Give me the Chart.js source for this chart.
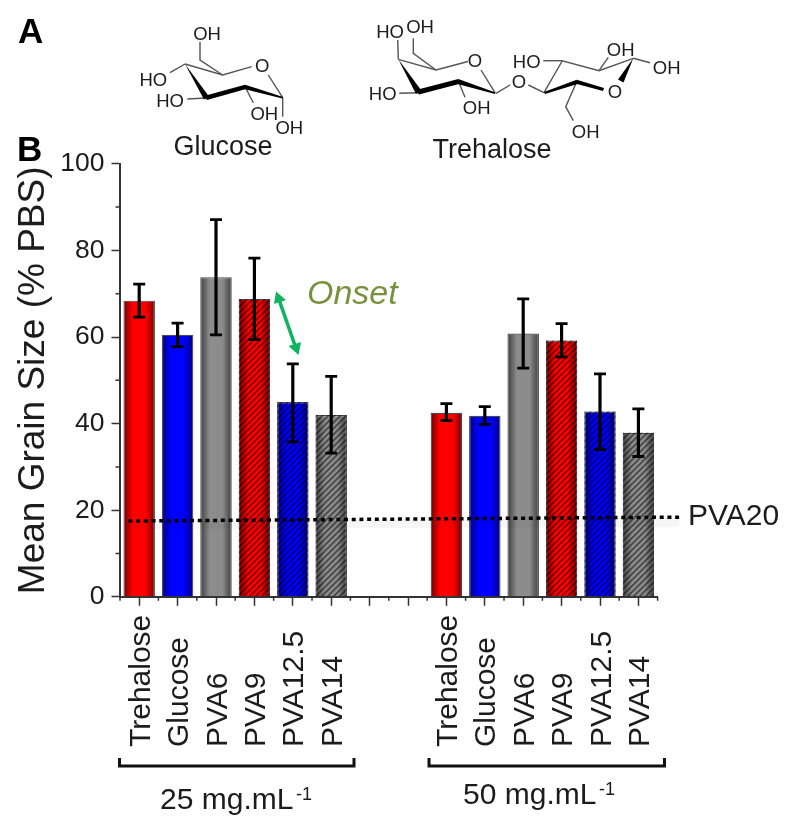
<!DOCTYPE html>
<html>
<head>
<meta charset="utf-8">
<title>Mean Grain Size</title>
<script src="https://cdn.jsdelivr.net/npm/chart.js@4"></script>
<style>
html,body{margin:0;padding:0;background:#fff;}
#wrap{position:relative;width:800px;height:834px;overflow:hidden;}
canvas{position:absolute;left:0;top:0;}
svg{position:absolute;left:0;top:0;}
svg text{font-family:"Liberation Sans",Arial,sans-serif;fill:#1c1c1c;}
.lab{font-size:18.5px;text-anchor:middle;dominant-baseline:central;}
.name{font-size:27px;text-anchor:middle;}
.thin{stroke:#555;stroke-width:1.4;fill:none;}
.bold{fill:#000;stroke:none;}
</style>
</head>
<body>
<div id="wrap">
<canvas id="c" width="800" height="834"></canvas>
<svg width="800" height="834" viewBox="0 0 800 834">
  <text x="18" y="43" style="font-size:35px;font-weight:bold;fill:#000">A</text>
  <text x="17" y="161" style="font-size:35px;font-weight:bold;fill:#000">B</text>

  <!-- Glucose -->
  <polyline class="thin" points="200,41.7 200,60 222.7,75"/>
  <polyline class="thin" points="185,64 222.7,75 251.7,66.7"/>
  <line class="thin" x1="268.3" y1="75" x2="282.7" y2="97.7"/>
  <line class="thin" x1="170" y1="72.7" x2="185" y2="64"/>
  <line class="thin" x1="187.3" y1="99" x2="206" y2="98"/>
  <line class="thin" x1="245" y1="86.7" x2="253.3" y2="102.7"/>
  <line class="thin" x1="282.7" y1="97.7" x2="282.7" y2="116.7"/>
  <polygon class="bold" points="185,64 209,96.5 204,99.5"/>
  <polygon class="bold" points="204,96 245,84.7 246,89 207,100"/>
  <polygon class="bold" points="245,84.7 283,97 282.5,98.5 244,89"/>
  <text class="lab" x="207" y="33">OH</text>
  <text class="lab" x="153.3" y="79.3">HO</text>
  <text class="lab" x="170" y="100">HO</text>
  <text class="lab" x="264.3" y="113">OH</text>
  <text class="lab" x="289.3" y="127.3">OH</text>
  <text class="name" x="223" y="155">Glucose</text>

  <!-- Trehalose -->
  <line class="thin" x1="397.7" y1="40" x2="398.3" y2="59.3"/>
  <polyline class="thin" points="413.3,38.3 413.3,53.3 436,70"/>
  <polyline class="thin" points="398.3,59.3 436,70 468,61.5"/>
  <line class="thin" x1="481" y1="70" x2="495" y2="92.7"/>
  <line class="thin" x1="399.3" y1="93.3" x2="418.3" y2="92.7"/>
  <line class="thin" x1="458.3" y1="81" x2="465" y2="97.3"/>
  <line class="thin" x1="496" y1="93.3" x2="510" y2="85"/>
  <line class="thin" x1="528.3" y1="85" x2="544" y2="92.7"/>
  <polyline class="thin" points="544,92.7 562.3,60.7 599,70.7 633.3,58.3"/>
  <line class="thin" x1="543.3" y1="60.7" x2="562.3" y2="60.7"/>
  <line class="thin" x1="599" y1="70.7" x2="608.3" y2="57.3"/>
  <line class="thin" x1="633.3" y1="58.3" x2="650" y2="62.7"/>
  <polyline class="thin" points="576.7,81.7 565.7,106.7 573.3,120.7"/>
  <polygon class="bold" points="398.3,59.3 421,90 416,94"/>
  <polygon class="bold" points="416,90 458.3,79 459,84 419,94.5"/>
  <polygon class="bold" points="458.3,79 495.5,92.5 495,94 457.5,84"/>
  <polygon class="bold" points="544,92 576.7,79.7 577.5,84 545,94"/>
  <polygon class="bold" points="576.7,79.7 604,88 603,91 577,84"/>
  <polygon class="bold" points="633.3,58.3 623.5,82.5 618,79.5"/>
  <text class="lab" x="390" y="31.7">HO</text>
  <text class="lab" x="420" y="26.7">OH</text>
  <text class="lab" x="382.7" y="93.3">HO</text>
  <text class="lab" x="476.7" y="107.3">OH</text>
  <text class="lab" x="475" y="60">O</text>
  <text class="lab" x="262.3" y="65">O</text>
  <text class="lab" x="519" y="81">O</text>
  <text class="lab" x="615" y="91.7">O</text>
  <text class="lab" x="526.7" y="61.7">HO</text>
  <text class="lab" x="620.7" y="49.3">OH</text>
  <text class="lab" x="666.7" y="67.3">OH</text>
  <text class="lab" x="585.7" y="131.7">OH</text>
  <text class="name" x="492" y="158">Trehalose</text>

  <!-- Onset arrow and note -->
  <line x1="279.5" y1="301" x2="295" y2="345.5" stroke="#10b35f" stroke-width="3.6"/>
  <polygon points="276,291.5 286,300 274,304" fill="#10b35f"/>
  <polygon points="298.5,355 288.5,346 301,342" fill="#10b35f"/>
  <text x="307" y="304" style="font-size:34px;font-style:italic;fill:#76923c">Onset</text>

  <text x="688" y="525" style="font-size:30px">PVA20</text>

  <!-- Concentration brackets -->
  <polyline points="119.5,758 119.5,766 354,766 354,758" fill="none" stroke="#111" stroke-width="3"/>
  <polyline points="429,758 429,766 664.5,766 664.5,758" fill="none" stroke="#111" stroke-width="3"/>
  <text x="160" y="809" style="font-size:30px">25 mg.mL</text>
  <text x="296" y="800" style="font-size:18px">-1</text>
  <text x="463" y="804" style="font-size:30px">50 mg.mL</text>
  <text x="599" y="795" style="font-size:18px">-1</text>
</svg>
</div>
<script>
const categories = ['Trehalose','Glucose','PVA6','PVA9','PVA12.5','PVA14','','','Trehalose','Glucose','PVA6','PVA9','PVA12.5','PVA14'];
const means    = [68.4,60.5,73.8,68.8,45.0,42.0,null,null,42.5,41.8,60.8,59.2,42.8,37.9];
const errHigh  = [72.2,63.2,87.1,78.2,53.8,50.9,null,null,44.6,43.9,68.8,63.1,51.5,43.4];
const errLow   = [64.6,57.8,60.5,59.4,35.8,33.2,null,null,40.7,39.8,52.8,55.4,34.0,32.4];
const hatchedMeans = [null,null,null,68.8,45.0,42.0,null,null,null,null,null,59.2,42.8,37.9];
const edgeColors = ['#6e0000','#000078','#3c3c3c','#6e0000','#000078','#3c3c3c',null,null,'#6e0000','#000078','#3c3c3c','#6e0000','#000078','#3c3c3c'];
const midColors  = ['#ff0000','#0000ff','#8c8c8c','#ff0000','#0000ff','#8c8c8c',null,null,'#ff0000','#0000ff','#8c8c8c','#ff0000','#0000ff','#8c8c8c'];
const pva20X = [-0.28,14.07];
const pva20Y = [17.5,18.4];
const pva20ShadowY = [16.6,17.2];
const yMajorStep = 20;

const ctx0 = document.getElementById('c').getContext('2d');

function hatchPattern(){
  const t = document.createElement('canvas'); t.width = 6; t.height = 6;
  const g = t.getContext('2d');
  g.strokeStyle = 'rgba(0,0,0,0.5)'; g.lineWidth = 1.6; g.lineCap = 'square';
  [[0,6,6,0],[-1,1,1,-1],[5,7,7,5]].forEach(l=>{g.beginPath();g.moveTo(l[0],l[1]);g.lineTo(l[2],l[3]);g.stroke();});
  return ctx0.createPattern(t,'repeat');
}
const hatch = hatchPattern();

function barFill(c){
  const i = c.dataIndex, ch = c.chart, xs = ch.scales && ch.scales.x;
  if (!xs || !edgeColors[i] || !isFinite(xs.getPixelForValue(i))) return '#888';
  const px = xs.getPixelForValue(i), hw = 16;
  const g = ch.ctx.createLinearGradient(px-hw,0,px+hw,0);
  g.addColorStop(0,edgeColors[i]); g.addColorStop(0.3,midColors[i]);
  g.addColorStop(0.7,midColors[i]); g.addColorStop(1,edgeColors[i]);
  return g;
}

const decor = {
  id:'decor',
  afterDatasetsDraw(ch){
    const c = ch.ctx, x = ch.scales.x, y = ch.scales.y;
    c.save();
    c.strokeStyle = '#000'; c.lineCap = 'butt';
    means.forEach((m,i)=>{
      if (m === null) return;
      const px = x.getPixelForValue(i), hi = y.getPixelForValue(errHigh[i]), lo = y.getPixelForValue(errLow[i]);
      c.lineWidth = 3.2; c.beginPath(); c.moveTo(px,hi); c.lineTo(px,lo); c.stroke();
      c.lineWidth = 2.8; c.beginPath();
      c.moveTo(px-6,hi); c.lineTo(px+6,hi); c.moveTo(px-6,lo); c.lineTo(px+6,lo); c.stroke();
    });
    c.restore();
  },
  afterDraw(ch){
    const c = ch.ctx, x = ch.scales.x, y = ch.scales.y, a = ch.chartArea;
    c.save();
    c.strokeStyle = '#333'; c.lineWidth = 1.5;
    const w = x.getPixelForValue(1) - x.getPixelForValue(0);
    c.beginPath();
    categories.forEach((_,i)=>{ const p = x.getPixelForValue(i)-w/2; c.moveTo(p,a.bottom); c.lineTo(p,a.bottom+4); });
    c.moveTo(a.right,a.bottom); c.lineTo(a.right,a.bottom+4);
    const t = y.ticks;
    for (let i=0;i<t.length-1;i++){ const p = y.getPixelForValue((t[i].value+t[i+1].value)/2); c.moveTo(a.left,p); c.lineTo(a.left-4.5,p); }
    c.stroke();
    c.fillStyle = '#1c1c1c'; c.font = '30px "Liberation Sans", Arial, sans-serif';
    c.textAlign = 'left'; c.textBaseline = 'alphabetic';
    categories.forEach((_,i)=>{
      const lab = x.getLabelForValue(i); if (!lab) return;
      c.save(); c.translate(x.getPixelForValue(i)+10.5,747); c.rotate(-Math.PI/2); c.fillText(lab,0,0); c.restore();
    });
    c.restore();
  }
};

new Chart(ctx0,{
  type:'bar',
  data:{
    labels:categories,
    datasets:[
      {type:'line',xAxisID:'xLine',data:pva20X.map((v,i)=>({x:v,y:pva20Y[i]})),borderColor:'#000',borderWidth:3.5,borderDash:[4,3.7],pointRadius:0,clip:false,order:0,tension:0},
      {type:'line',xAxisID:'xLine',data:pva20X.map((v,i)=>({x:v,y:pva20ShadowY[i]})),borderColor:'rgba(0,0,0,0.035)',borderWidth:9,pointRadius:0,clip:false,order:1,tension:0},
      {data:hatchedMeans,backgroundColor:hatch,borderColor:'rgba(0,0,0,0)',borderWidth:0,grouped:false,barPercentage:0.8,categoryPercentage:1,order:2},
      {data:means,backgroundColor:barFill,borderColor:'#4a4a4a',borderWidth:1.2,grouped:false,barPercentage:0.82,categoryPercentage:1,order:3}
    ]
  },
  options:{
    responsive:false,animation:false,
    layout:{padding:{left:0,top:163.8,right:142.4,bottom:0}},
    plugins:{legend:{display:false},tooltip:{enabled:false}},
    scales:{
      x:{
        afterFit(s){s.height=237.2;},
        border:{color:'#333',width:2},
        grid:{offset:false,drawOnChartArea:false,drawTicks:true,tickLength:9,tickColor:'#333',tickWidth:1.5},
        ticks:{display:false,autoSkip:false}
      },
      xLine:{type:'linear',display:false,offset:false,grid:{offset:false},min:-0.5,max:13.5},
      y:{
        min:0,max:100,
        afterFit(s){s.width=120;},
        border:{color:'#333',width:2},
        grid:{drawOnChartArea:false,tickLength:8.5,tickColor:'#333',tickWidth:1.5},
        ticks:{stepSize:yMajorStep,padding:7,color:'#1c1c1c',font:{family:'"Liberation Sans", Arial, sans-serif',size:26.5}},
        title:{display:true,text:'Mean Grain Size (% PBS)',color:'#1c1c1c',padding:{top:11.5,bottom:0},font:{family:'"Liberation Sans", Arial, sans-serif',size:37}}
      }
    }
  },
  plugins:[decor]
});
</script>
</body>
</html>
